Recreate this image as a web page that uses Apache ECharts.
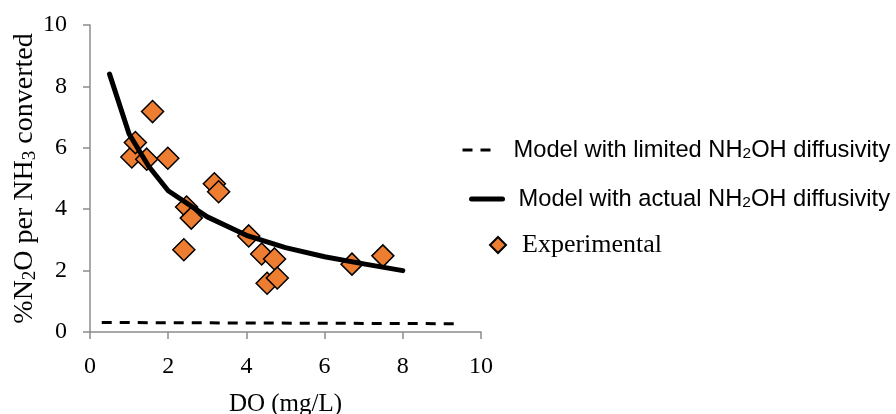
<!DOCTYPE html>
<html>
<head>
<meta charset="utf-8">
<script src="https://cdn.jsdelivr.net/npm/echarts@6/dist/echarts.min.js"></script>
<style>html,body{margin:0;padding:0;background:#fff}#c{width:896px;height:414px}</style>
</head>
<body>
<div id="c"></div>
<script>
var xTicks = [0, 2, 4, 6, 8, 10];
var yTicks = [0, 2, 4, 6, 8, 10];
var limitedX = [0.3, 9.4];
var limitedY = [0.31, 0.27];
var actualX = [0.5, 1.0, 1.5, 2.0, 3.0, 4.0, 5.0, 6.0, 7.0, 8.0];
var actualY = [8.4, 6.45, 5.4, 4.6, 3.75, 3.15, 2.75, 2.45, 2.22, 2.0];
var expX = [1.07, 1.16, 1.45, 1.60, 1.99, 2.40, 2.47, 2.59, 3.18, 3.29, 4.06, 4.39, 4.72, 4.53, 4.79, 6.70, 7.49];
var expY = [5.70, 6.17, 5.63, 7.18, 5.66, 2.68, 4.07, 3.71, 4.83, 4.57, 3.13, 2.54, 2.38, 1.59, 1.76, 2.21, 2.48];
var names = ['Model with limited NH2OH diffusivity', 'Model with actual NH2OH diffusivity', 'Experimental'];

function zip(a, b) { return a.map(function (v, i) { return [v, b[i]]; }); }
var serif = 'Liberation Serif, Times New Roman, serif';
var sans = 'Liberation Sans, Arial, sans-serif';
var axisCol = '#8c8c8c';

var chart = echarts.init(document.getElementById('c'));
function legendFmt(n) { return n.replace('NH2OH', 'NH{sub|2}OH'); }
var sansRich = { sub: { fontFamily: sans, fontSize: 15.5, color: '#000', verticalAlign: 'bottom' } };
var hideSym = { color: 'rgba(0,0,0,0)', borderWidth: 0, opacity: 0 };

chart.setOption({
  animation: false,
  grid: { left: 90, top: 25, width: 391, height: 307, containLabel: false, outerBoundsMode: 'none' },
  xAxis: {
    type: 'value', min: 0, max: 10, interval: 2,
    name: 'DO (mg/L)', nameLocation: 'middle', nameGap: 60,
    nameTextStyle: { fontFamily: serif, fontSize: 25, color: '#000' },
    axisLine: { lineStyle: { color: axisCol, width: 1.5 } },
    axisTick: { length: 7, lineStyle: { color: axisCol, width: 1.5 } },
    axisLabel: { fontFamily: serif, fontSize: 24, color: '#000', margin: 23 },
    splitLine: { show: false }
  },
  yAxis: {
    type: 'value', min: 0, max: 10, interval: 2,
    name: '%N{sub|2}O per NH{sub|3} converted', nameLocation: 'middle', nameGap: 49, nameRotate: 90,
    nameTextStyle: { fontFamily: serif, fontSize: 28, color: '#000',
      rich: { sub: { fontFamily: serif, fontSize: 19, color: '#000', verticalAlign: 'bottom' } } },
    axisLine: { show: true, lineStyle: { color: axisCol, width: 1.5 } },
    axisTick: { show: true, length: 7, lineStyle: { color: axisCol, width: 1.5 } },
    axisLabel: { fontFamily: serif, fontSize: 24, color: '#000', margin: 23 },
    splitLine: { show: false }
  },
  legend: [
    { data: [names[0]], left: 456, top: 133, itemWidth: 34, itemHeight: 14, orient: 'vertical',
      formatter: legendFmt, itemStyle: hideSym, lineStyle: { width: 3, color: '#000' },
      textStyle: { fontFamily: sans, fontSize: 23.7, color: '#000', padding: [0, 0, 0, 12], rich: sansRich } },
    { data: [names[1]], left: 464, top: 182, itemWidth: 31, itemHeight: 14, orient: 'vertical',
      formatter: legendFmt, itemStyle: hideSym, lineStyle: { width: 5, color: '#000', cap: 'round' },
      textStyle: { fontFamily: sans, fontSize: 23.7, color: '#000', padding: [0, 0, 0, 11], rich: sansRich } },
    { data: [names[2]], left: 484, top: 227, itemWidth: 16, itemHeight: 16, orient: 'vertical',
      textStyle: { fontFamily: serif, fontSize: 26, color: '#000', padding: [0, 0, 0, 11] } }
  ],
  series: [
    { name: names[0], type: 'line', data: zip(limitedX, limitedY), symbol: 'none',
      lineStyle: { color: '#000', width: 3, type: [10, 8] }, itemStyle: { color: '#000' } },
    { name: names[1], type: 'line', data: zip(actualX, actualY), symbol: 'none',
      lineStyle: { color: '#000', width: 5, cap: 'round', join: 'round' }, itemStyle: { color: '#000' } },
    { name: names[2], type: 'scatter', data: zip(expX, expY), symbol: 'diamond', symbolSize: 22,
      itemStyle: { color: '#ED7D31', borderColor: '#000', borderWidth: 1.5, opacity: 1 } }
  ]
});
</script>
</body>
</html>
